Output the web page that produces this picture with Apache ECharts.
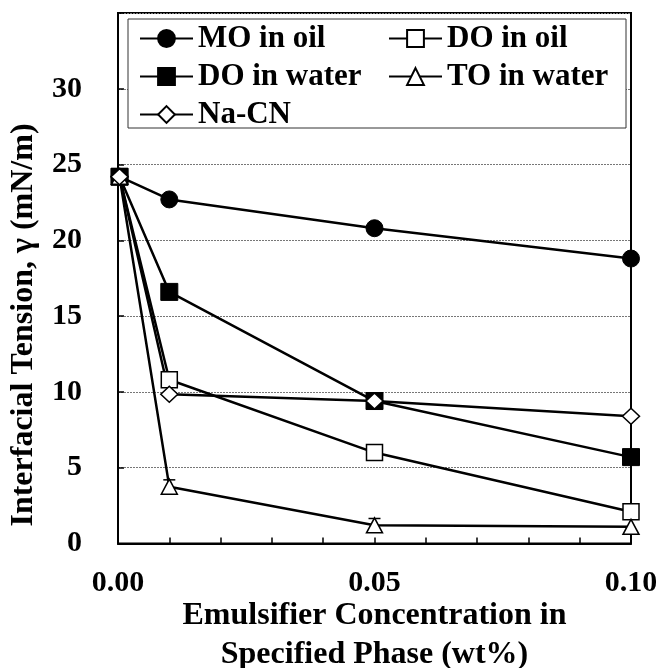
<!DOCTYPE html>
<html>
<head>
<meta charset="utf-8">
<script src="https://cdn.jsdelivr.net/npm/echarts@6/dist/echarts.min.js"></script>
<style>
html,body{margin:0;padding:0;background:#fff;}
#chart{width:656px;height:668px;}
</style>
</head>
<body>
<div id="chart"></div>
<script>
var concentrations = [0.0003, 0.01, 0.05, 0.10];
var moInOil = [24.2, 22.7, 20.8, 18.8];
var doInOil = [24.2, 10.8, 6.0, 2.1];
var doInWater = [24.2, 16.6, 9.4, 5.7];
var toInWater = [24.2, 3.75, 1.2, 1.1];
var naCN = [24.2, 9.85, 9.4, 8.4];
var toErrX = [0.01, 0.05];
var toErrY = [3.75, 1.2];
var toErr = [0.45, 0.45];
var xTicks = [0.00, 0.05, 0.10];
var yTicks = [0, 5, 10, 15, 20, 25, 30];

var FONT = '"Liberation Serif", "Times New Roman", serif';

function pairs(ys) { return concentrations.map(function (x, i) { return [x, ys[i]]; }); }

function lineSeries(name, ys, symbol, size, filled) {
  return {
    name: name, type: 'line', data: pairs(ys),
    symbol: symbol, symbolSize: size,
    lineStyle: { color: '#000', width: 2.5 },
    itemStyle: filled ? { color: '#000', borderColor: '#000', borderWidth: 1 }
                      : { color: '#fff', borderColor: '#000', borderWidth: 1.5 },
    emphasis: { disabled: true }, animation: false
  };
}

var chart = echarts.init(document.getElementById('chart'), null, { renderer: 'canvas' });
var labelStyle = { fontFamily: FONT, fontWeight: 'bold', fontSize: 30, color: '#000' };

chart.setOption({
  backgroundColor: '#fff',
  animation: false,
  grid: { left: 118, top: 13, right: 25, bottom: 124.5, show: true, borderColor: '#000', borderWidth: 2,
          backgroundColor: 'transparent', containLabel: false, outerBoundsMode: 'none' },
  xAxis: {
    type: 'value', min: 0, max: 0.1, interval: 0.05,
    axisLine: { lineStyle: { color: '#000', width: 2 } },
    axisTick: { show: true, inside: true, length: 6, lineStyle: { color: '#000', width: 1.5 } },
    minorTick: { show: true, splitNumber: 5, length: 6, lineStyle: { color: '#000', width: 1.5 } },
    splitLine: { show: false },
    axisLabel: Object.assign({ margin: 25, formatter: function (v) {
      for (var i = 0; i < xTicks.length; i++) if (Math.abs(xTicks[i] - v) < 1e-9) return xTicks[i].toFixed(2);
      return '';
    } }, labelStyle),
    name: 'Emulsifier Concentration in\nSpecified Phase (wt%)',
    nameLocation: 'middle', nameGap: 53, nameMoveOverlap: false,
    nameTextStyle: { fontFamily: FONT, fontWeight: 'bold', fontSize: 32, lineHeight: 39, color: '#000' }
  },
  yAxis: {
    type: 'value', min: 0, max: 35, interval: 5,
    axisLine: { lineStyle: { color: '#000', width: 2 } },
    axisTick: { show: true, inside: true, length: 6, lineStyle: { color: '#000', width: 1.5 } },
    splitLine: { show: true, lineStyle: { color: '#777', type: [2, 1], width: 1 } },
    axisLabel: Object.assign({ margin: 36, formatter: function (v) {
      return yTicks.indexOf(v) >= 0 ? String(v) : '';
    } }, labelStyle)
  },
  legend: [
    { data: ['MO in oil', 'DO in water', 'Na-CN'], orient: 'vertical', left: 139, top: 23, padding: 0,
      itemWidth: 53, itemHeight: 21, itemGap: 7, selectedMode: false,
      textStyle: { fontFamily: FONT, fontWeight: 'bold', fontSize: 31, color: '#000' } },
    { data: ['DO in oil', 'TO in water'], orient: 'vertical', left: 388, top: 23, padding: 0,
      itemWidth: 53, itemHeight: 21, itemGap: 7, selectedMode: false,
      textStyle: { fontFamily: FONT, fontWeight: 'bold', fontSize: 31, color: '#000' } }
  ],
  graphic: [
    { type: 'rect', z: 3, shape: { x: 128, y: 19, width: 498, height: 109 },
      style: { fill: '#fff', stroke: '#333', lineWidth: 1 } },
    { type: 'text', x: 24, y: 325, rotation: Math.PI / 2,
      style: { text: 'Interfacial Tension, γ (mN/m)', font: 'bold 32px ' + FONT, fill: '#000', align: 'center', verticalAlign: 'middle' } }
  ],
  series: [
    lineSeries('MO in oil', moInOil, 'circle', 17, true),
    lineSeries('DO in oil', doInOil, 'rect', 16, false),
    lineSeries('DO in water', doInWater, 'rect', 17, true),
    {
      type: 'custom', name: 'TO err', silent: true, z: 2,
      data: toErrX.map(function (x, i) { return [x, toErrY[i], toErr[i]]; }),
      renderItem: function (params, api) {
        var x = api.value(0), y = api.value(1), e = api.value(2);
        var top = api.coord([x, y + e]), bot = api.coord([x, y - e]);
        var w = 6;
        return { type: 'group', children: [
          { type: 'line', shape: { x1: top[0], y1: top[1], x2: bot[0], y2: bot[1] }, style: { stroke: '#000', lineWidth: 1.5 } },
          { type: 'line', shape: { x1: top[0] - w, y1: top[1], x2: top[0] + w, y2: top[1] }, style: { stroke: '#000', lineWidth: 1.5 } },
          { type: 'line', shape: { x1: bot[0] - w, y1: bot[1], x2: bot[0] + w, y2: bot[1] }, style: { stroke: '#000', lineWidth: 1.5 } }
        ] };
      }
    },
    lineSeries('TO in water', toInWater, 'triangle', [16, 15], false),
    lineSeries('Na-CN', naCN, 'diamond', [17, 16], false)
  ]
});
</script>
</body>
</html>
